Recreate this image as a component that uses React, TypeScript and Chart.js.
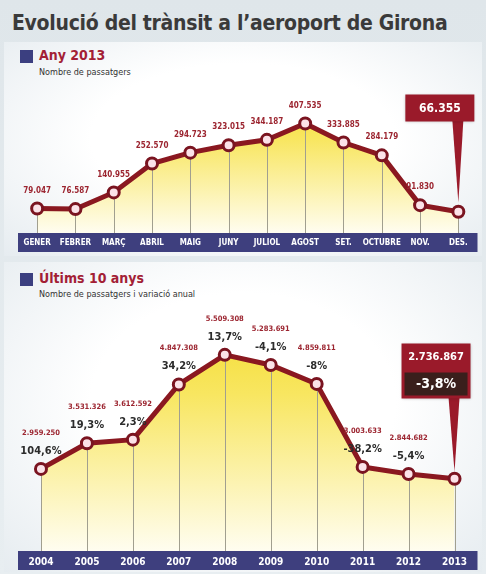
import React, { useEffect, useRef } from "react";
import { Chart, registerables } from "chart.js";

Chart.register(...registerables);

const monthLabels = ["GENER", "FEBRER", "MARÇ", "ABRIL", "MAIG", "JUNY", "JULIOL", "AGOST", "SET.", "OCTUBRE", "NOV.", "DES."];
const monthPassengers = [79047, 76587, 140955, 252570, 294723, 323015, 344187, 407535, 333885, 284179, 91830, 66355];

const yearLabels = ["2004", "2005", "2006", "2007", "2008", "2009", "2010", "2011", "2012", "2013"];
const yearPassengers = [2959250, 3531326, 3612592, 4847308, 5509308, 5283691, 4859811, 3003633, 2844682, 2736867];
const yearChange = [104.6, 19.3, 2.3, 34.2, 13.7, -4.1, -8, -38.2, -5.4, -3.8];

const FONT = "'DejaVu Sans Condensed', 'DejaVu Sans', sans-serif";
const BAND = "#3e3f7e";
const LINE = "#8a1820";
const RED_TEXT = "#9c2530";
const DARK_TEXT = "#2c2c2c";

const fmtThousands = (n: number) => String(n).replace(/\B(?=(\d{3})+(?!\d))/g, ".");
const fmtPct = (v: number) => String(v).replace(".", ",") + "%";

type Cfg = {
  labels: string[];
  values: number[];
  pct?: number[];
  min: number;
  max: number;
  tickSize: number;
  padRight: number;
  valueOffset: number;
  valueSize: number;
  pctOffset: number;
  boxTop: number;
  boxH: number;
  tipGap: number;
};

function makeChart(canvas: HTMLCanvasElement, cfg: Cfg) {
  const plugin = {
    id: "decor",
    beforeDraw(chart: any) {
      const { ctx, chartArea, scales } = chart;
      const x = scales.x;
      ctx.save();
      ctx.fillStyle = BAND;
      ctx.fillRect(chartArea.left, x.top, chartArea.right - chartArea.left, x.bottom - x.top);
      ctx.restore();
    },
    beforeDatasetsDraw(chart: any) {
      const { ctx, chartArea } = chart;
      const meta = chart.getDatasetMeta(0);
      ctx.save();
      ctx.strokeStyle = "#a19f8f";
      ctx.lineWidth = 1;
      meta.data.forEach((p: any) => {
        const px = Math.round(p.x) + 0.5;
        ctx.beginPath();
        ctx.moveTo(px, p.y);
        ctx.lineTo(px, chartArea.bottom);
        ctx.stroke();
      });
      ctx.restore();
    },
    afterDatasetsDraw(chart: any) {
      const { ctx } = chart;
      const meta = chart.getDatasetMeta(0);
      const n = meta.data.length;
      ctx.save();
      ctx.textAlign = "center";
      ctx.textBaseline = "middle";
      meta.data.forEach((p: any, i: number) => {
        if (i === n - 1) return;
        ctx.fillStyle = RED_TEXT;
        ctx.font = `bold ${cfg.valueSize}px ${FONT}`;
        ctx.fillText(fmtThousands(cfg.values[i]), p.x, p.y - cfg.valueOffset);
        if (cfg.pct) {
          ctx.fillStyle = DARK_TEXT;
          ctx.font = `bold 11px ${FONT}`;
          ctx.fillText(fmtPct(cfg.pct[i]), p.x, p.y - cfg.pctOffset);
        }
      });
      ctx.restore();
    },
    afterDraw(chart: any) {
      const { ctx, chartArea } = chart;
      const meta = chart.getDatasetMeta(0);
      const n = meta.data.length;
      const p = meta.data[n - 1];
      const right = p.x + 16;
      const w = 69;
      const left = right - w;
      const top = chartArea.top + cfg.boxTop;
      const bottom = top + cfg.boxH;
      ctx.save();
      ctx.fillStyle = "#9a1a2a";
      ctx.beginPath();
      ctx.moveTo(p.x - 6, bottom - 1);
      ctx.lineTo(p.x + 5, bottom - 1);
      ctx.lineTo(p.x, p.y - cfg.tipGap);
      ctx.closePath();
      ctx.fill();
      ctx.shadowColor = "rgba(0,0,0,0.25)";
      ctx.shadowBlur = 3;
      ctx.fillStyle = "#9a1a2a";
      ctx.fillRect(left, top, w, cfg.boxH);
      ctx.shadowBlur = 0;
      ctx.fillStyle = "#ffffff";
      ctx.textAlign = "center";
      ctx.textBaseline = "middle";
      if (cfg.pct) {
        ctx.font = `bold 11px ${FONT}`;
        ctx.fillText(fmtThousands(cfg.values[n - 1]), left + w / 2, top + 14);
        ctx.fillStyle = "#3a1f1c";
        ctx.fillRect(left + 3, top + 29, w - 6, 23);
        ctx.fillStyle = "#ffffff";
        ctx.font = `bold 14px ${FONT}`;
        ctx.fillText(fmtPct(cfg.pct[n - 1]), left + w / 2, top + 41);
      } else {
        ctx.font = `bold 12px ${FONT}`;
        ctx.fillText(fmtThousands(cfg.values[n - 1]), left + w / 2, top + cfg.boxH / 2 + 1);
      }
      ctx.restore();
    },
  };

  return new Chart(canvas, {
    type: "line",
    data: {
      labels: cfg.labels,
      datasets: [
        {
          data: cfg.values,
          borderColor: LINE,
          borderWidth: 5,
          tension: 0,
          fill: "start",
          backgroundColor: (c: any) => {
            const area = c.chart.chartArea;
            if (!area) return "rgba(250,230,80,0.6)";
            const g = c.chart.ctx.createLinearGradient(0, area.top, 0, area.bottom);
            g.addColorStop(0, "#f4da2a");
            g.addColorStop(0.35, "#f8e660");
            g.addColorStop(1, "#fffdf0");
            return g;
          },
          pointRadius: 5.5,
          pointBorderWidth: 3,
          pointBackgroundColor: "#fbe2e8",
          pointBorderColor: "#7a1420",
        },
      ],
    },
    options: {
      responsive: false,
      animation: false,
      layout: { padding: { left: 18, right: cfg.padRight, top: 0, bottom: 0 } },
      plugins: {
        legend: { display: false },
        tooltip: { enabled: false },
        filler: { drawTime: "beforeDatasetsDraw" },
      } as any,
      scales: {
        x: {
          offset: true,
          grid: { display: false, drawTicks: false },
          border: { display: false },
          ticks: {
            color: "#ffffff",
            font: { family: FONT, size: cfg.tickSize, weight: "bold" },
            padding: 5,
            maxRotation: 0,
            autoSkip: false,
          },
          afterFit: (s: any) => {
            s.height = 19;
          },
        },
        y: { display: false, min: cfg.min, max: cfg.max },
      },
    },
    plugins: [plugin],
  } as any);
}

function ChartCanvas({ cfg, height, top }: { cfg: Cfg; height: number; top: number }) {
  const ref = useRef<HTMLCanvasElement | null>(null);
  useEffect(() => {
    if (!ref.current) return;
    const ch = makeChart(ref.current, cfg);
    return () => ch.destroy();
  }, []);
  return (
    <canvas
      ref={ref}
      width={486}
      height={height}
      style={{ position: "absolute", left: 0, top, width: 486, height }}
    />
  );
}

const topCfg: Cfg = {
  labels: monthLabels,
  values: monthPassengers,
  min: -15850,
  max: 542580,
  tickSize: 8,
  padRight: 8,
  valueOffset: 18,
  valueSize: 8,
  pctOffset: 0,
  boxTop: 6,
  boxH: 27,
  tipGap: 9,
};

const bottomCfg: Cfg = {
  labels: yearLabels,
  values: yearPassengers,
  pct: yearChange,
  min: 1122340,
  max: 6546626,
  tickSize: 10,
  padRight: 6,
  valueOffset: 36,
  valueSize: 7.5,
  pctOffset: 18,
  boxTop: 35,
  boxH: 55,
  tipGap: 7,
};

export default function App() {
  useEffect(() => {
    document.body.style.margin = "0";
  }, []);
  const panelBg = "radial-gradient(ellipse at 50% 45%, #ffffff 45%, #e6ecf0 100%)";
  return (
    <div
      style={{
        position: "relative",
        width: 486,
        height: 574,
        overflow: "hidden",
        background: "linear-gradient(#dfe6ea, #e8eef1)",
        fontFamily: FONT,
      }}
    >
      <div style={{ position: "absolute", left: 4, top: 42, width: 478, height: 214, background: panelBg }} />
      <div style={{ position: "absolute", left: 4, top: 262, width: 478, height: 310, background: panelBg }} />
      <div
        style={{
          position: "absolute",
          left: 12,
          top: 11,
          fontSize: 21,
          fontWeight: "bold",
          color: "#3a3a3a",
          whiteSpace: "nowrap",
          letterSpacing: -0.3,
        }}
      >
        Evolució del trànsit a l’aeroport de Girona
      </div>

      <div style={{ position: "absolute", left: 20, top: 50, width: 13, height: 13, background: "#3b3f80" }} />
      <div style={{ position: "absolute", left: 39, top: 47, fontSize: 14, fontWeight: "bold", color: "#a31f36" }}>
        Any 2013
      </div>
      <div style={{ position: "absolute", left: 39, top: 67, fontSize: 9, color: "#333" }}>Nombre de passatgers</div>

      <div style={{ position: "absolute", left: 20, top: 273, width: 13, height: 13, background: "#3b3f80" }} />
      <div style={{ position: "absolute", left: 39, top: 270, fontSize: 14, fontWeight: "bold", color: "#a31f36" }}>
        Últims 10 anys
      </div>
      <div style={{ position: "absolute", left: 39, top: 289, fontSize: 9, color: "#333" }}>
        Nombre de passatgers i variació anual
      </div>

      <ChartCanvas cfg={topCfg} top={80} height={172} />
      <ChartCanvas cfg={bottomCfg} top={300} height={270} />
    </div>
  );
}
